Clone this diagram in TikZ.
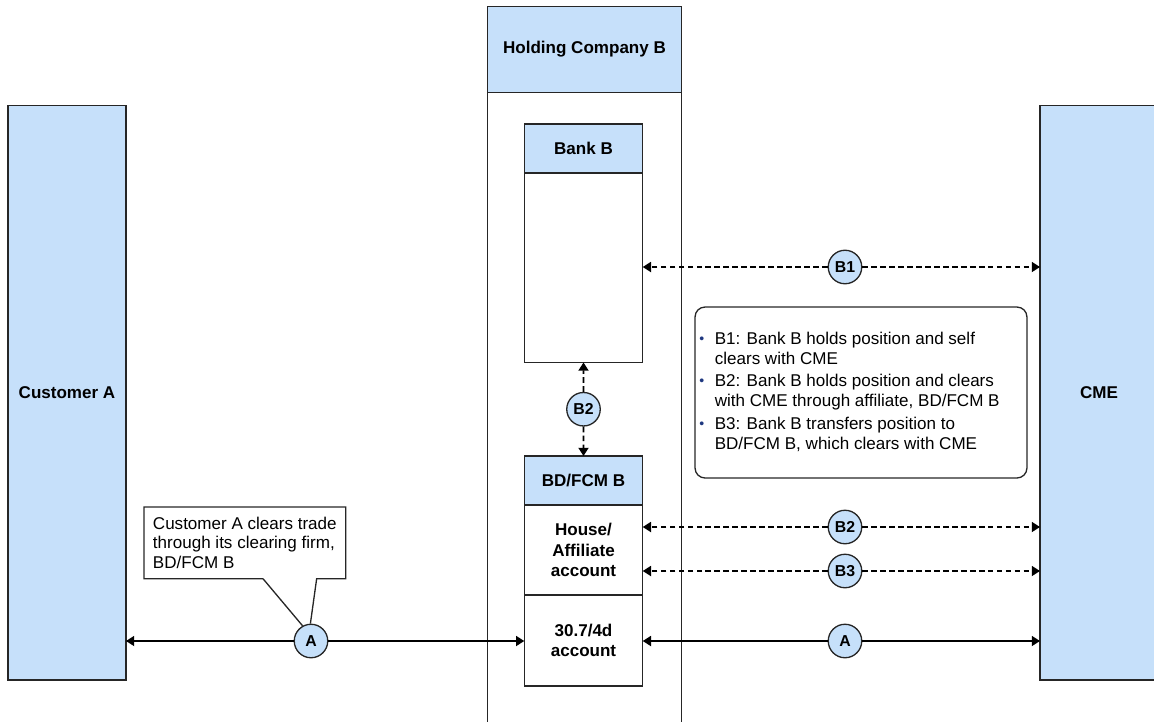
\documentclass[tikz,border=0pt]{standalone}
\usepackage{fontspec}
\setmainfont{Liberation Sans}
\usetikzlibrary{arrows.meta,calc,positioning}
\definecolor{boxblue}{RGB}{198,224,250}
\definecolor{bulblue}{RGB}{31,56,128}

\begin{document}
\begin{tikzpicture}[x=0.02cm,y=-0.02cm,
  font=\fontsize{9.7}{11.3}\selectfont,
  line/.style={draw=black!85,line width=0.75pt},
  side/.style={line,fill=boxblue,inner sep=0pt,outer sep=0pt,minimum width=2.36cm,minimum height=11.49cm,font=\fontsize{9.7}{11.3}\selectfont\bfseries},
  hdr/.style={line,fill=boxblue,inner sep=0pt,outer sep=0pt,minimum width=2.37cm,minimum height=0.98cm,font=\fontsize{9.7}{11.3}\selectfont\bfseries},
  cell/.style={line,fill=white,inner sep=0pt,outer sep=0pt,minimum width=2.37cm,align=center,font=\fontsize{9.7}{11.6}\selectfont\bfseries},
  circ/.style={circle,line,fill=boxblue,inner sep=0pt,minimum size=0.67cm,font=\fontsize{9}{10}\selectfont\bfseries},
  darr/.style={line width=1pt,dash pattern=on 3.2pt off 1.9pt,-{Triangle[length=4.7pt,width=5.7pt]}},
  sarr/.style={line width=1pt,-{Triangle[length=4.7pt,width=5.7pt]}}]
\useasboundingbox (0,0) rectangle (1154,721);
\coordinate (bottom) at (0,730);

% Customer and clearing house
\node[side] (custA) at (67,392.8) {Customer A};
\node[side] (cme) at (1099,392.8) {CME};

% Holding company
\node[hdr,minimum width=3.89cm,minimum height=1.71cm,anchor=north] (hold) at (584.5,6.7) {\raisebox{-2pt}{Holding Company B}};
\draw[line] (hold.south west) -- (hold.south west |- bottom);
\draw[line] (hold.south east) -- (hold.south east |- bottom);

% Bank B
\node[hdr,anchor=north] (bankH) at (583.5,124) {Bank B};
\node[cell,minimum height=3.79cm,below=0pt of bankH] (bank) {};

% BD/FCM B
\node[hdr,anchor=north] (bdH) at (583.5,456) {BD/FCM B};
\node[cell,minimum height=1.8cm,below=0pt of bdH] (house) {House/\\Affiliate\\account};
\node[cell,minimum height=1.82cm,below=0pt of house] (seg) {30.7/4d\\account};

% Markers
\node[circ] (b2v) at ($(bank.south)!0.5!(bdH.north)$) {B2};
\node[circ] (b1) at (845,267) {B1};
\node[circ] (b2) at (845,527) {B2};
\node[circ] (b3) at (845,571) {B3};
\node[circ] (ar) at (845,641) {A};
\node[circ] (al) at (311,641) {A};

% Flows
\draw[darr] (b2v) -- (bank.south);
\draw[darr] (b2v) -- (bdH.north);
\draw[darr] (b1) -- (bank.east |- b1);
\draw[darr] (b1) -- (cme.west |- b1);
\draw[darr] (b2) -- (house.east |- b2);
\draw[darr] (b2) -- (cme.west |- b2);
\draw[darr] (b3) -- (house.east |- b3);
\draw[darr] (b3) -- (cme.west |- b3);
\draw[sarr] (ar) -- (seg.east |- ar);
\draw[sarr] (ar) -- (cme.west |- ar);
\draw[sarr] (al) -- (custA.east |- al);
\draw[sarr] (al) -- (seg.west |- al);

% Callout
\node[align=left,inner sep=0pt,minimum width=4.02cm,minimum height=1.42cm,anchor=north west] (note) at (144,507)
  {Customer A clears trade\\through its clearing firm,\\BD/FCM B};
\draw[line] ($(note.south west)+(119,0)$) -- (note.south west) -- (note.north west) -- (note.north east)
  -- (note.south east) -- ++(-29,0) -- (al.92);
\draw[line] ($(note.south west)+(119,0)$) -- (al.119);

% Legend
\node[line,rounded corners=0.2cm,minimum width=6.64cm,minimum height=3.42cm] (legend) at (861,392.5) {};
\node[anchor=north west,inner sep=0pt] (legtxt) at (699,330) {%
  \begin{tabular}{@{}l@{\hspace{6pt}}l@{}}
  \raisebox{0.6pt}{\fontsize{8}{8}\selectfont\color{bulblue}\textbullet} & B1: Bank B holds position and self\\
  & clears with CME\\[1.6pt]
  \raisebox{0.6pt}{\fontsize{8}{8}\selectfont\color{bulblue}\textbullet} & B2: Bank B holds position and clears\\
  & with CME through affiliate, BD/FCM B\\[1.6pt]
  \raisebox{0.6pt}{\fontsize{8}{8}\selectfont\color{bulblue}\textbullet} & B3: Bank B transfers position to\\
  & BD/FCM B, which clears with CME
  \end{tabular}};
\end{tikzpicture}
\end{document}
